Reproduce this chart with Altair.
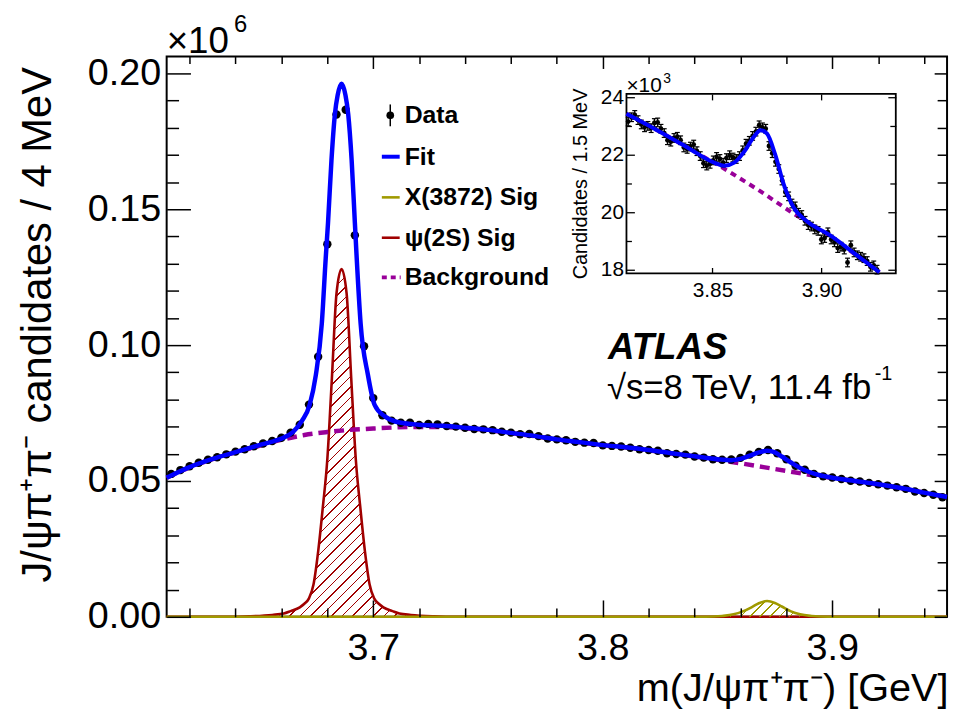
import math
import altair as alt
import pandas as pd

# ------------------------------------------------------------------ data
# main histogram: bin centres [GeV] and candidates / 4 MeV [x10^6]
bin_x = [3.612, 3.616, 3.620, 3.624, 3.628, 3.632, 3.636, 3.640, 3.644, 3.648,
         3.652, 3.656, 3.660, 3.664, 3.668, 3.672, 3.676, 3.680, 3.684, 3.688,
         3.692, 3.696, 3.700, 3.704, 3.708, 3.712, 3.716, 3.720, 3.724, 3.728,
         3.732, 3.736, 3.740, 3.744, 3.748, 3.752, 3.756, 3.760, 3.764, 3.768,
         3.772, 3.776, 3.780, 3.784, 3.788, 3.792, 3.796, 3.800, 3.804, 3.808,
         3.812, 3.816, 3.820, 3.824, 3.828, 3.832, 3.836, 3.840, 3.844, 3.848,
         3.852, 3.856, 3.860, 3.864, 3.868, 3.872, 3.876, 3.880, 3.884, 3.888,
         3.892, 3.896, 3.900, 3.904, 3.908, 3.912, 3.916, 3.920, 3.924, 3.928,
         3.932, 3.936, 3.940, 3.944, 3.948]
bin_y = [0.0526, 0.0540, 0.0554, 0.0567, 0.0578, 0.0587, 0.0598, 0.0608, 0.0617, 0.0628,
         0.0638, 0.0647, 0.0659, 0.0678, 0.0707, 0.0781, 0.0957, 0.1371, 0.1849, 0.1866,
         0.1404, 0.0996, 0.0805, 0.0742, 0.0722, 0.0714, 0.0714, 0.0706, 0.0710, 0.0708,
         0.0702, 0.0700, 0.0696, 0.0691, 0.0690, 0.0687, 0.0681, 0.0678, 0.0672, 0.0673,
         0.0665, 0.0656, 0.0653, 0.0650, 0.0644, 0.0641, 0.0640, 0.0631, 0.0629, 0.0627,
         0.0622, 0.0617, 0.0614, 0.0611, 0.0602, 0.0599, 0.0597, 0.0590, 0.0586, 0.0580,
         0.0578, 0.0579, 0.0585, 0.0597, 0.0607, 0.0614, 0.0602, 0.0580, 0.0556, 0.0541,
         0.0526, 0.0517, 0.0513, 0.0507, 0.0501, 0.0498, 0.0493, 0.0488, 0.0483, 0.0477,
         0.0471, 0.0461, 0.0456, 0.0449, 0.0440]

fit_x = [3.610, 3.620, 3.630, 3.640, 3.650, 3.656, 3.660, 3.6650, 3.6690, 3.6723,
         3.6750, 3.6776, 3.6793, 3.6803, 3.6818, 3.6833, 3.6845, 3.6862, 3.6879, 3.6891,
         3.6906, 3.6920, 3.6928, 3.6945, 3.6977, 3.7006, 3.7050, 3.7100, 3.720, 3.730,
         3.740, 3.750, 3.760, 3.770, 3.780, 3.790, 3.800, 3.810, 3.820, 3.830,
         3.840, 3.850, 3.856, 3.860, 3.864, 3.868, 3.8715, 3.875, 3.878, 3.882,
         3.886, 3.890, 3.895, 3.900, 3.910, 3.920, 3.930, 3.940, 3.950]
fit_y = [0.0512, 0.0551, 0.0581, 0.0606, 0.0631, 0.0645, 0.0656, 0.0680, 0.0722, 0.0780,
         0.0890, 0.1080, 0.1320, 0.1450, 0.1680, 0.1850, 0.1920, 0.1962, 0.1920, 0.1850,
         0.1680, 0.1450, 0.1320, 0.1080, 0.0890, 0.0780, 0.0738, 0.0718, 0.0707, 0.0703,
         0.0696, 0.0688, 0.0677, 0.0666, 0.0653, 0.0643, 0.0632, 0.0624, 0.0614, 0.0602,
         0.0591, 0.0580, 0.0576, 0.0581, 0.0593, 0.0605, 0.0611, 0.0605, 0.0590, 0.0568,
         0.0548, 0.0533, 0.0520, 0.0512, 0.0500, 0.0488, 0.0474, 0.0457, 0.0441]

bkg_x = [3.610, 3.620, 3.630, 3.640, 3.650, 3.660, 3.670, 3.680, 3.690, 3.700,
         3.710, 3.720, 3.730, 3.740, 3.750, 3.760, 3.770, 3.780, 3.790, 3.800,
         3.810, 3.820, 3.830, 3.840, 3.850, 3.860, 3.870, 3.880, 3.890, 3.900,
         3.910, 3.920, 3.930, 3.940, 3.950]
bkg_y = [0.0512, 0.0550, 0.0580, 0.0605, 0.0628, 0.0651, 0.0669, 0.0680, 0.0688, 0.0693,
         0.0697, 0.0699, 0.0699, 0.0694, 0.0687, 0.0676, 0.0665, 0.0653, 0.0642, 0.0632,
         0.0623, 0.0613, 0.0601, 0.0590, 0.0578, 0.0565, 0.0551, 0.0537, 0.0523, 0.0511,
         0.0499, 0.0487, 0.0473, 0.0457, 0.0441]

psi_x = [3.610, 3.636, 3.646, 3.656, 3.661, 3.664, 3.668, 3.670, 3.672, 3.674,
         3.676, 3.678, 3.680, 3.682, 3.684, 3.6862, 3.6884, 3.6904, 3.6924, 3.6944,
         3.6964, 3.6984, 3.7004, 3.7024, 3.7044, 3.7084, 3.7114, 3.7164, 3.7264, 3.736,
         3.950]
psi_y = [0.0, 0.0, 0.0002, 0.0007, 0.0012, 0.0021, 0.0035, 0.0048, 0.0068, 0.0120,
         0.0240, 0.0400, 0.0580, 0.0880, 0.1190, 0.1280, 0.1190, 0.0880, 0.0580, 0.0400,
         0.0240, 0.0120, 0.0068, 0.0048, 0.0035, 0.0021, 0.0012, 0.0007, 0.0002, 0.0,
         0.0]

x3872_x = [3.610, 3.845, 3.852, 3.857, 3.861, 3.865, 3.868, 3.8716, 3.875, 3.878,
           3.882, 3.886, 3.891, 3.898, 3.950]
x3872_y = [0.0, 0.0, 0.0003, 0.0009, 0.0020, 0.0036, 0.0050, 0.0058, 0.0051, 0.0038,
           0.0020, 0.0009, 0.0003, 0.0, 0.0]

# inset: candidates / 1.5 MeV [x10^3]
inset_x = [3.8114, 3.8129, 3.8144, 3.8159, 3.8174, 3.8189, 3.8204, 3.8219, 3.8234, 3.8249,
           3.8264, 3.8279, 3.8294, 3.8309, 3.8324, 3.8339, 3.8354, 3.8369, 3.8384, 3.8399,
           3.8414, 3.8429, 3.8444, 3.8459, 3.8474, 3.8489, 3.8504, 3.8519, 3.8534, 3.8549,
           3.8564, 3.8579, 3.8594, 3.8609, 3.8624, 3.8639, 3.8654, 3.8669, 3.8684, 3.8699,
           3.8714, 3.8729, 3.8744, 3.8759, 3.8774, 3.8789, 3.8804, 3.8819, 3.8834, 3.8849,
           3.8864, 3.8879, 3.8894, 3.8909, 3.8924, 3.8939, 3.8954, 3.8969, 3.8984, 3.8999,
           3.9014, 3.9029, 3.9044, 3.9059, 3.9074, 3.9089, 3.9104, 3.9119, 3.9134, 3.9149,
           3.9164, 3.9179, 3.9194, 3.9209, 3.9224, 3.9239, 3.9254]
inset_y = [23.15, 23.30, 23.38, 23.20, 23.05, 22.95, 23.00, 22.92, 23.10, 23.12,
           22.90, 22.75, 22.50, 22.45, 22.58, 22.62, 22.50, 22.25, 22.20, 22.28,
           22.35, 22.12, 21.95, 21.70, 21.62, 21.68, 21.80, 21.92, 21.85, 21.72,
           21.88, 21.98, 21.90, 21.85, 21.95, 22.15, 22.38, 22.48, 22.65, 22.80,
           23.02, 22.95, 22.90, 22.30, 22.05, 21.75, 21.50, 21.10, 20.70, 20.55,
           20.30, 20.20, 19.98, 19.90, 19.70, 19.55, 19.50, 19.40, 19.35, 19.05,
           19.10, 19.30, 19.05, 18.95, 18.75, 18.80, 18.70, 18.25, 18.85, 18.60,
           18.50, 18.45, 18.40, 18.30, 18.10, 18.15, 18.00]
inset_err = 0.15

inset_fit_x = [3.8106, 3.8234, 3.8385, 3.8508, 3.8554, 3.8600, 3.8645, 3.8690, 3.8720,
               3.8750, 3.8788, 3.8827, 3.8873, 3.8933, 3.9038, 3.9150, 3.9265]
inset_fit_y = [23.42, 22.90, 22.25, 21.72, 21.61, 21.72, 22.10, 22.62, 22.85,
               22.73, 21.99, 20.96, 20.15, 19.68, 19.20, 18.57, 17.91]
inset_bkg_x = [3.8106, 3.8234, 3.8385, 3.8536, 3.8700, 3.8886, 3.9038, 3.9150, 3.9265]
inset_bkg_y = [23.42, 22.90, 22.25, 21.59, 20.82, 19.88, 19.17, 18.55, 17.91]

# axes / ticks
x_major = [3.7, 3.8, 3.9]
x_minor = [3.62, 3.64, 3.66, 3.68, 3.72, 3.74, 3.76, 3.78, 3.82, 3.84, 3.86, 3.88, 3.92, 3.94]
y_major = [0.0, 0.05, 0.10, 0.15, 0.20]
y_minor = [0.01, 0.02, 0.03, 0.04, 0.06, 0.07, 0.08, 0.09, 0.11, 0.12, 0.13, 0.14,
           0.16, 0.17, 0.18, 0.19]
inset_x_major = [3.85, 3.90]
inset_y_major = [18, 20, 22, 24]
inset_y_minor = [19, 21, 23]

legend_labels = ["Data", "Fit", "X(3872) Sig", "ψ(2S) Sig", "Background"]
x_title = "m(J/ψπ⁺π⁻) [GeV]"
y_title = "J/ψπ⁺π⁻ candidates / 4 MeV"
inset_y_title = "Candidates / 1.5 MeV"
exp_main = ["×10", "6"]
exp_inset = ["×10", "3"]
atlas_text = ["ATLAS", "√s=8 TeV, 11.4 fb", "-1"]

# ------------------------------------------------------------------ layout / style
FONT = "Liberation Sans"
W, H = 787, 565
XDOM = [3.61, 3.95]
YDOM = [0.0, 0.2062]
IXDOM = [3.8106, 3.934]
IYDOM = [17.87, 24.11]
IXR = [463.7, 735.3]
IYR = [218.7, 37.7]

BLUE = "#0000ff"
RED = "#a00000"
OLIVE = "#a09a00"
PURPLE = "#990099"


def xs(inset=False):
    if inset:
        return alt.Scale(domain=IXDOM, range=IXR, nice=False, zero=False)
    return alt.Scale(domain=XDOM, nice=False, zero=False)


def ys(inset=False):
    if inset:
        return alt.Scale(domain=IYDOM, range=IYR, nice=False, zero=False)
    return alt.Scale(domain=YDOM, nice=False, zero=False)


def tick_axis(orient, values, size, offset, width=1.5):
    return alt.Axis(orient=orient, values=values, tickSize=size, offset=offset,
                    labels=False, domain=False, grid=False, title=None, zindex=2,
                    ticks=True, tickColor="black", tickWidth=width)


def hatch(color, w_px, h_px, period=7.5, lw=1.0):
    n = int(round((w_px + h_px) / (math.sqrt(2) * period)))
    r = w_px / h_px
    c = (r + 1) / (r * r + 1)
    clear = "rgba(255,255,255,0)"
    f = lw / period
    stops = []
    for i in range(n):
        t0 = round(i / n, 5)
        t1 = round((i + f) / n, 5)
        stops += [alt.GradientStop(color=clear, offset=t0),
                  alt.GradientStop(color=color, offset=t0),
                  alt.GradientStop(color=color, offset=t1),
                  alt.GradientStop(color=clear, offset=t1)]
    return alt.LinearGradient(gradient="linear", stops=stops, x1=0, y1=0, x2=c * r, y2=c)


data_df = pd.DataFrame({"x": bin_x, "y": bin_y})
fit_df = pd.DataFrame({"x": fit_x, "y": fit_y})
bkg_df = pd.DataFrame({"x": bkg_x, "y": bkg_y})
psi_df = pd.DataFrame({"x": psi_x, "y": psi_y})
x38_df = pd.DataFrame({"x": x3872_x, "y": x3872_y})
psi_area_df = psi_df[(psi_df.x >= 3.636) & (psi_df.x <= 3.736)]
x38_area_df = x38_df[(x38_df.x >= 3.845) & (x38_df.x <= 3.898)]

px_per_x = W / (XDOM[1] - XDOM[0])
px_per_y = H / (YDOM[1] - YDOM[0])
psi_grad = hatch(RED, (psi_area_df.x.max() - psi_area_df.x.min()) * px_per_x,
                 psi_area_df.y.max() * px_per_y)
x38_grad = hatch(OLIVE, (x38_area_df.x.max() - x38_area_df.x.min()) * px_per_x,
                 x38_area_df.y.max() * px_per_y, period=7.0, lw=1.1)

inset_df = pd.DataFrame({"x": inset_x, "y": inset_y})
inset_df["lo"] = inset_df["y"] - inset_err
inset_df["hi"] = inset_df["y"] + inset_err
ifit_df = pd.DataFrame({"x": inset_fit_x, "y": inset_fit_y})
ibkg_df = pd.DataFrame({"x": inset_bkg_x, "y": inset_bkg_y})
iframe_df = pd.DataFrame({"x": [IXDOM[0]], "x2": [IXDOM[1]], "y": [IYDOM[0]], "y2": [IYDOM[1]]})

# ------------------------------------------------------------------ main plot layers
x_label_axis = alt.Axis(orient="bottom", values=x_major, format=".1f", ticks=False, tickSize=0,
                        domain=False, grid=False, labelFontSize=38, labelPadding=13,
                        labelFlush=False, labelOverlap=False,
                        title=x_title, titleFontSize=40, titleFontWeight="normal",
                        titleX=W + 1, titleY=84, titleAlign="right", titleBaseline="alphabetic")
y_label_axis = alt.Axis(orient="left", values=y_major, format=".2f", ticks=False, tickSize=0,
                        domain=False, grid=False, labelFontSize=38, labelPadding=6,
                        labelFlush=False, labelOverlap=False,
                        title=y_title, titleFontSize=42, titleFontWeight="normal",
                        titleAngle=270, titleX=-117, titleY=270, titleAlign="center",
                        titleBaseline="alphabetic")

psi_area = alt.Chart(psi_area_df).mark_area(fill=psi_grad, interpolate="monotone").encode(
    x=alt.X("x:Q", scale=xs(), axis=x_label_axis),
    y=alt.Y("y:Q", scale=ys(), axis=y_label_axis))

psi_line = alt.Chart(psi_df).mark_line(color=RED, strokeWidth=2.6, interpolate="monotone").encode(
    x=alt.X("x:Q", scale=xs(), axis=tick_axis("top", x_major, 17, -H)),
    y=alt.Y("y:Q", scale=ys(), axis=tick_axis("right", y_major, 24, -W)))

x38_area = alt.Chart(x38_area_df).mark_area(fill=x38_grad, interpolate="monotone").encode(
    x=alt.X("x:Q", scale=xs(), axis=tick_axis("top", x_minor, 9, -H)),
    y=alt.Y("y:Q", scale=ys(), axis=tick_axis("right", y_minor, 12, -W)))

x38_line = alt.Chart(x38_df).mark_line(color=OLIVE, strokeWidth=2.6, interpolate="monotone").encode(
    x=alt.X("x:Q", scale=xs(), axis=tick_axis("bottom", x_major, 12, -H)),
    y=alt.Y("y:Q", scale=ys(), axis=tick_axis("left", y_major, 13, -W)))

bkg_line = alt.Chart(bkg_df).mark_line(color=PURPLE, strokeWidth=4.5, strokeDash=[10, 6],
                                       interpolate="monotone").encode(
    x=alt.X("x:Q", scale=xs(), axis=tick_axis("bottom", x_minor, 7, -H)),
    y=alt.Y("y:Q", scale=ys(), axis=tick_axis("left", y_minor, 10, -W)))

data_pts = alt.Chart(data_df).mark_circle(color="black", size=72, opacity=1).encode(
    x=alt.X("x:Q", scale=xs(), axis=None),
    y=alt.Y("y:Q", scale=ys(), axis=None))

fit_line = alt.Chart(fit_df).mark_line(color=BLUE, strokeWidth=4.5, interpolate="monotone").encode(
    x=alt.X("x:Q", scale=xs(), axis=None),
    y=alt.Y("y:Q", scale=ys(), axis=None))

# ------------------------------------------------------------------ inset layers
ix_label_axis = alt.Axis(orient="bottom", values=inset_x_major, format=".2f", ticks=False,
                         tickSize=0, domain=False, grid=False, labelFontSize=21, labelPadding=6,
                         labelFlush=False, labelOverlap=False, title=None, zindex=2,
                         offset=-(H - IYR[0]))
iy_label_axis = alt.Axis(orient="left", values=inset_y_major, format="d", ticks=False,
                         tickSize=0, domain=False, grid=False, labelFontSize=21, labelPadding=3,
                         labelFlush=False, labelOverlap=False, offset=-IXR[0], zindex=2,
                         title=inset_y_title, titleFontSize=20, titleFontWeight="normal",
                         titleAngle=270, titleX=-40, titleY=128, titleAlign="center",
                         titleBaseline="alphabetic")

iframe = alt.Chart(iframe_df).mark_rect(fill="white", stroke="black", strokeWidth=1.8).encode(
    x=alt.X("x:Q", scale=xs(True), axis=ix_label_axis),
    x2="x2:Q",
    y=alt.Y("y:Q", scale=ys(True), axis=iy_label_axis),
    y2="y2:Q")

ibkg = alt.Chart(ibkg_df).mark_line(color=PURPLE, strokeWidth=4, strokeDash=[6, 5],
                                    interpolate="monotone").encode(
    x=alt.X("x:Q", scale=xs(True), axis=tick_axis("top", inset_x_major, 6, -IYR[0], 1.3)),
    y=alt.Y("y:Q", scale=ys(True), axis=tick_axis("right", inset_y_major, 8, -(W - IXR[0]), 1.3)))

ierr = alt.Chart(inset_df).mark_rule(color="black", strokeWidth=1.4).encode(
    x=alt.X("x:Q", scale=xs(True), axis=tick_axis("bottom", inset_x_major, 6, -(H - IYR[1]), 1.3)),
    y=alt.Y("lo:Q", scale=ys(True), axis=tick_axis("right", inset_y_minor, 5, -(W - IXR[0]), 1.3)),
    y2="hi:Q")

icap_lo = alt.Chart(inset_df).mark_tick(orient="horizontal", size=5, thickness=1.2, color="black",
                                        opacity=1).encode(
    x=alt.X("x:Q", scale=xs(True), axis=None),
    y=alt.Y("lo:Q", scale=ys(True), axis=tick_axis("left", inset_y_major, 8, -IXR[1], 1.3)))

icap_hi = alt.Chart(inset_df).mark_tick(orient="horizontal", size=5, thickness=1.2, color="black",
                                        opacity=1).encode(
    x=alt.X("x:Q", scale=xs(True), axis=None),
    y=alt.Y("hi:Q", scale=ys(True), axis=tick_axis("left", inset_y_minor, 6, -IXR[1], 1.3)))

ipts = alt.Chart(inset_df).mark_circle(color="black", size=24, opacity=1).encode(
    x=alt.X("x:Q", scale=xs(True), axis=None),
    y=alt.Y("y:Q", scale=ys(True), axis=None))

ifit = alt.Chart(ifit_df).mark_line(color=BLUE, strokeWidth=4, interpolate="monotone").encode(
    x=alt.X("x:Q", scale=xs(True), axis=None),
    y=alt.Y("y:Q", scale=ys(True), axis=None))


# ------------------------------------------------------------------ text and legend
def label(text, x, y, size, weight="normal", style="normal", align="left",
          baseline="alphabetic", angle=0):
    return alt.Chart(pd.DataFrame({"t": [text]})).mark_text(
        font=FONT, fontSize=size, fontWeight=weight, fontStyle=style, align=align,
        baseline=baseline, angle=angle, color="black").encode(
        text="t:N", x=alt.value(x), y=alt.value(y))


one = pd.DataFrame({"k": [0]})
texts = [
    label(exp_main[0], 0, -4, 37),
    label(exp_main[1], 68, -25, 24),
    label(exp_inset[0], IXR[0], 36, 21),
    label(exp_inset[1], IXR[0] + 37, 27, 14),
    label(atlas_text[0], 445, 305, 37, weight="bold", style="italic"),
    label(atlas_text[1], 444, 345, 35),
    label(atlas_text[2], 714, 326, 20),
]

leg_rows = [59.3, 101, 142, 182.7, 222.7]
leg_x0, leg_x1, leg_tx = 217, 235, 240
legend = [
    alt.Chart(one).mark_rule(color="black", strokeWidth=1.5).encode(
        x=alt.value(225.5), y=alt.value(leg_rows[0] - 11), y2=alt.value(leg_rows[0] + 11)),
    alt.Chart(one).mark_circle(color="black", size=60, opacity=1).encode(
        x=alt.value(225.5), y=alt.value(leg_rows[0])),
    alt.Chart(one).mark_rule(color=BLUE, strokeWidth=4).encode(
        x=alt.value(leg_x0), x2=alt.value(leg_x1), y=alt.value(leg_rows[1])),
    alt.Chart(one).mark_rule(color=OLIVE, strokeWidth=2.6).encode(
        x=alt.value(leg_x0), x2=alt.value(leg_x1), y=alt.value(leg_rows[2])),
    alt.Chart(one).mark_rule(color=RED, strokeWidth=2.6).encode(
        x=alt.value(leg_x0), x2=alt.value(leg_x1), y=alt.value(leg_rows[3])),
    alt.Chart(one).mark_rule(color=PURPLE, strokeWidth=4, strokeDash=[5, 4]).encode(
        x=alt.value(leg_x0), x2=alt.value(leg_x1 + 1), y=alt.value(leg_rows[4])),
]
for lab, row in zip(legend_labels, leg_rows):
    legend.append(label(lab, leg_tx, row, 25, weight="bold", baseline="middle"))

layers = [psi_area, psi_line, x38_area, x38_line, bkg_line, data_pts, fit_line,
          iframe, ibkg, ierr, icap_lo, icap_hi, ipts, ifit] + legend + texts

chart = alt.layer(*layers).resolve_scale(
    x="independent", y="independent"
).properties(
    width=W, height=H,
    padding={"left": 160, "top": 46, "right": 6, "bottom": 91},
    autosize=alt.AutoSizeParams(type="none"),
).configure_view(
    stroke="black", strokeWidth=2
).configure_axis(
    labelFont=FONT, titleFont=FONT, labelColor="black", titleColor="black",
    tickColor="black", grid=False, domain=False
)

chart.save("out.html", embed_options={"renderer": "svg", "actions": False})
